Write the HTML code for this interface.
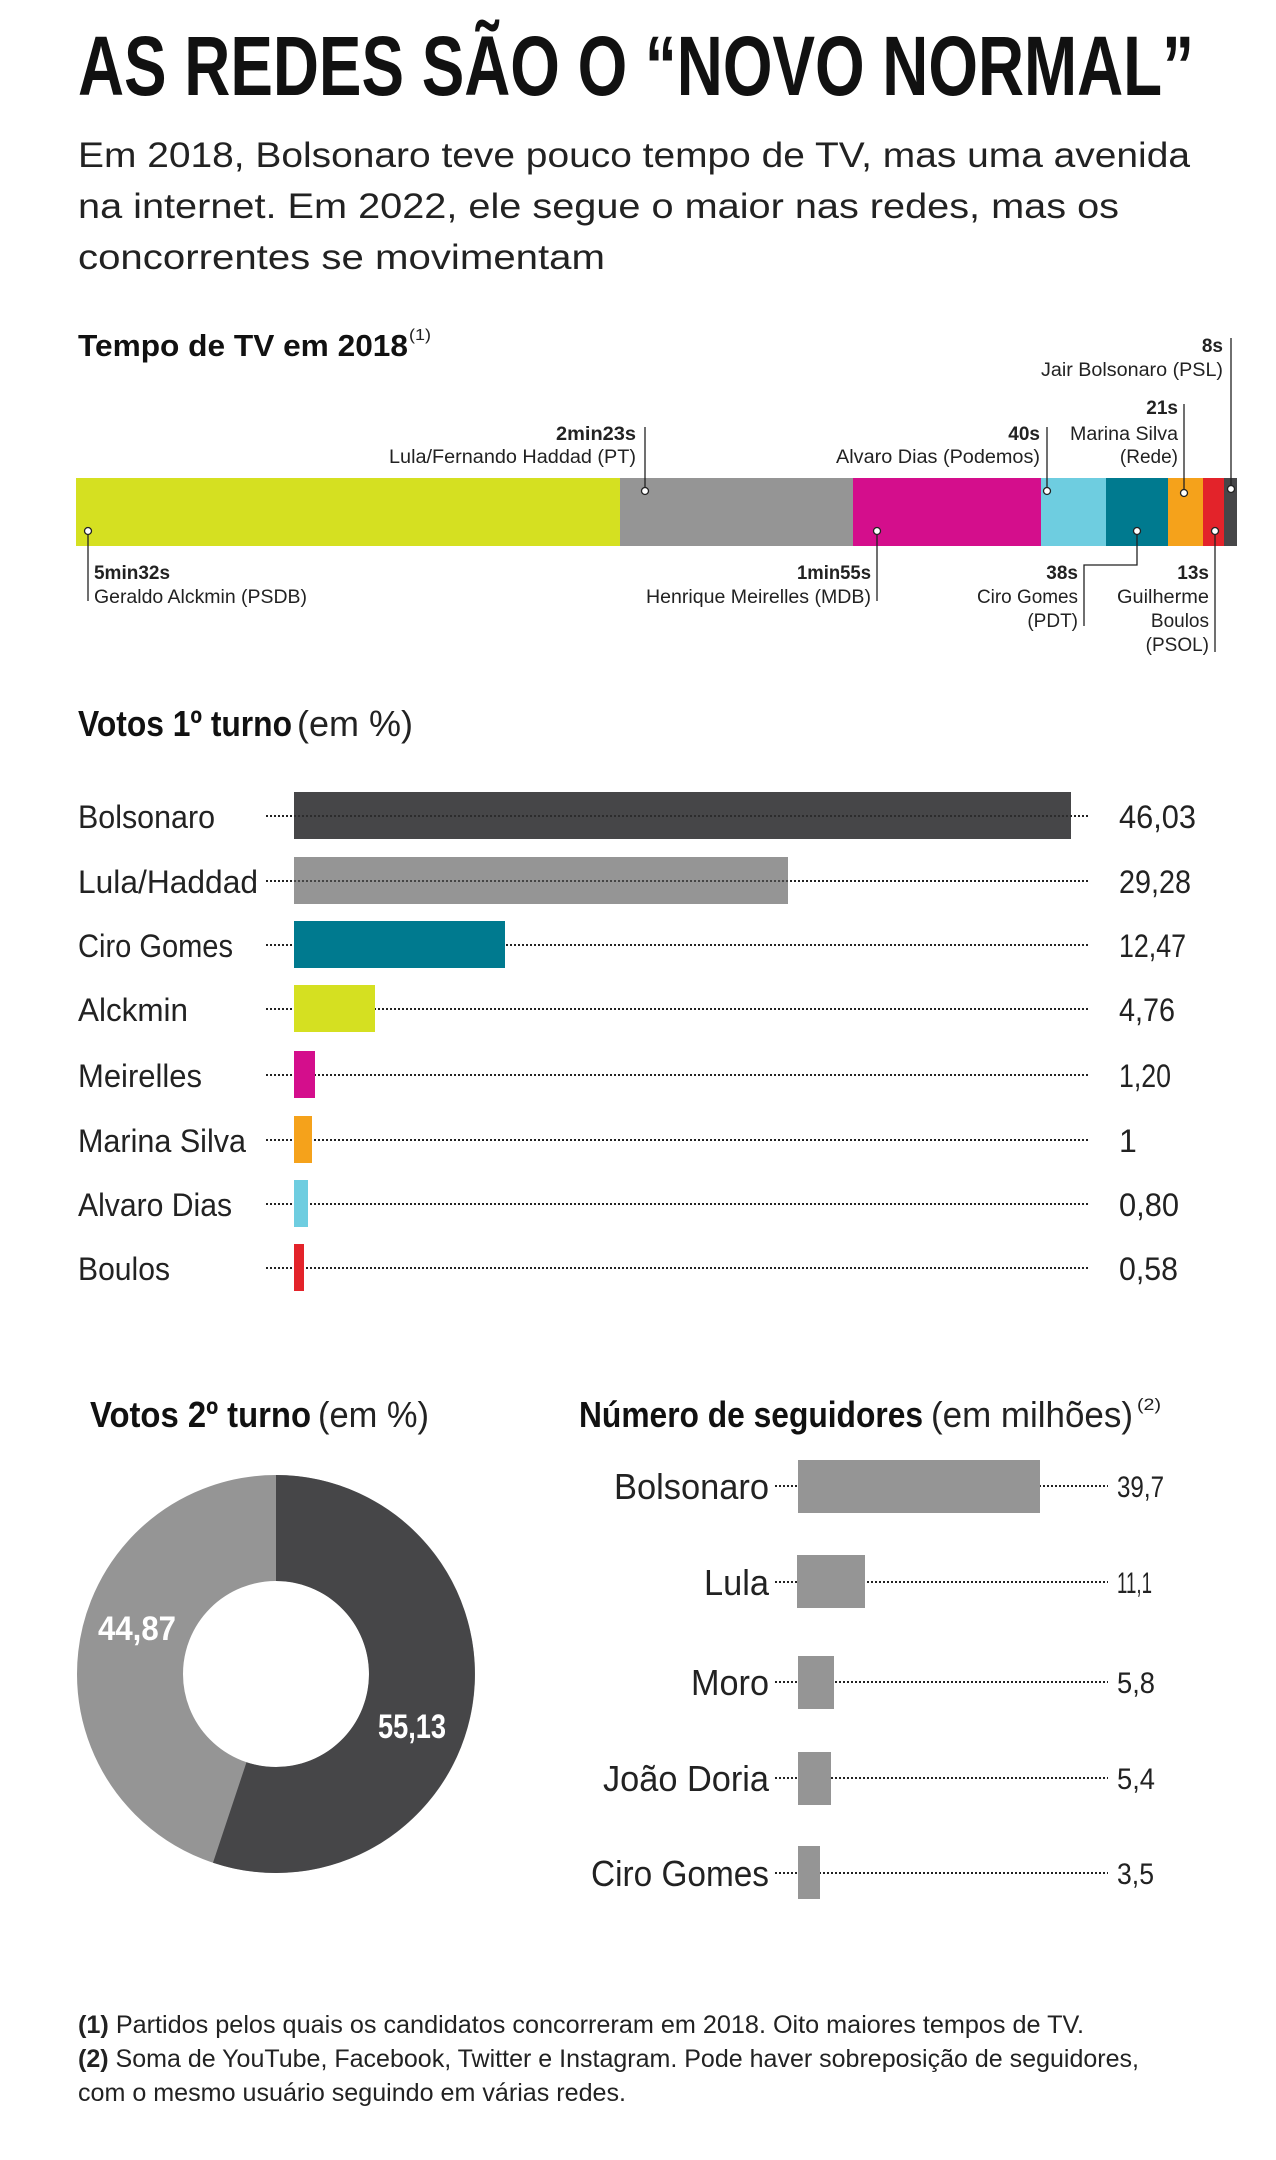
<!DOCTYPE html>
<html><head><meta charset="utf-8"><style>
html,body{margin:0;padding:0;background:#fff}
svg{display:block}
text{font-family:"Liberation Sans Narrow","Liberation Sans",sans-serif;fill:#222}
.b{font-weight:bold}
</style></head><body>
<svg width="1276" height="2160" viewBox="0 0 1276 2160" xmlns="http://www.w3.org/2000/svg">
<rect width="1276" height="2160" fill="#fff"/>
<text x="78" y="95" class="b" font-size="84" textLength="1116" lengthAdjust="spacingAndGlyphs" style="fill:#111">AS REDES SÃO O “NOVO NORMAL”</text>
<g font-size="35" style="fill:#222">
<text x="78" y="167" textLength="1112" lengthAdjust="spacingAndGlyphs">Em 2018, Bolsonaro teve pouco tempo de TV, mas uma avenida</text>
<text x="78" y="218" textLength="1041" lengthAdjust="spacingAndGlyphs">na internet. Em 2022, ele segue o maior nas redes, mas os</text>
<text x="78" y="269" textLength="527" lengthAdjust="spacingAndGlyphs">concorrentes se movimentam</text>
</g>
<text x="78" y="356" class="b" font-size="31" textLength="330" lengthAdjust="spacingAndGlyphs" style="fill:#111">Tempo de TV em 2018</text>
<text x="409" y="340" font-size="16" textLength="22" lengthAdjust="spacingAndGlyphs">(1)</text>
<rect x="76" y="478" width="544" height="68" fill="#d5e021"/>
<rect x="620" y="478" width="233" height="68" fill="#959595"/>
<rect x="853" y="478" width="188" height="68" fill="#d40e8c"/>
<rect x="1041" y="478" width="65" height="68" fill="#6ecde0"/>
<rect x="1106" y="478" width="62" height="68" fill="#007a8f"/>
<rect x="1168" y="478" width="35" height="68" fill="#f5a21b"/>
<rect x="1203" y="478" width="21" height="68" fill="#e3232a"/>
<rect x="1224" y="478" width="13" height="68" fill="#464648"/>
<g stroke="#222" stroke-width="1.3" fill="none">
<line x1="645" y1="427" x2="645" y2="488"/>
<line x1="1047" y1="427" x2="1047" y2="488"/>
<line x1="1184" y1="404" x2="1184" y2="490"/>
<line x1="1231" y1="338" x2="1231" y2="486"/>
<line x1="88" y1="534" x2="88" y2="601"/>
<line x1="877" y1="534" x2="877" y2="601"/>
<polyline points="1137,534 1137,565 1084,565 1084,626"/>
<line x1="1215" y1="534" x2="1215" y2="652"/>
</g>
<g fill="#fff" stroke="#222" stroke-width="1.3">
<circle cx="645" cy="491" r="3.5"/><circle cx="1047" cy="491" r="3.5"/>
<circle cx="1184" cy="493" r="3.5"/><circle cx="1231" cy="489" r="3.5"/>
<circle cx="88" cy="531" r="3.5"/><circle cx="877" cy="531" r="3.5"/>
<circle cx="1137" cy="531" r="3.5"/><circle cx="1215" cy="531" r="3.5"/>
</g>
<g font-size="19" text-anchor="end">
<text x="1223" y="352" class="b">8s</text>
<text x="1223" y="376" textLength="182" lengthAdjust="spacingAndGlyphs">Jair Bolsonaro (PSL)</text>
<text x="1178" y="414" class="b">21s</text>
<text x="1178" y="440" textLength="108" lengthAdjust="spacingAndGlyphs">Marina Silva</text>
<text x="1178" y="463">(Rede)</text>
<text x="636" y="440" class="b" textLength="80" lengthAdjust="spacingAndGlyphs">2min23s</text>
<text x="636" y="463" textLength="247" lengthAdjust="spacingAndGlyphs">Lula/Fernando Haddad (PT)</text>
<text x="1040" y="440" class="b">40s</text>
<text x="1040" y="463" textLength="204" lengthAdjust="spacingAndGlyphs">Alvaro Dias (Podemos)</text>
<text x="871" y="579" class="b" textLength="74" lengthAdjust="spacingAndGlyphs">1min55s</text>
<text x="871" y="603" textLength="225" lengthAdjust="spacingAndGlyphs">Henrique Meirelles (MDB)</text>
<text x="1078" y="579" class="b">38s</text>
<text x="1078" y="603" textLength="101" lengthAdjust="spacingAndGlyphs">Ciro Gomes</text>
<text x="1078" y="627">(PDT)</text>
<text x="1209" y="579" class="b">13s</text>
<text x="1209" y="603" textLength="92" lengthAdjust="spacingAndGlyphs">Guilherme</text>
<text x="1209" y="627">Boulos</text>
<text x="1209" y="651">(PSOL)</text>
</g>
<g font-size="19">
<text x="94" y="579" class="b" textLength="76" lengthAdjust="spacingAndGlyphs">5min32s</text>
<text x="94" y="603" textLength="213" lengthAdjust="spacingAndGlyphs">Geraldo Alckmin (PSDB)</text>
</g>
<text x="78" y="736" font-size="36" style="fill:#111"><tspan class="b" textLength="214" lengthAdjust="spacingAndGlyphs">Votos 1º turno</tspan></text>
<text x="297" y="736" font-size="36" textLength="116" lengthAdjust="spacingAndGlyphs">(em %)</text>
<g stroke="#222" stroke-width="2" stroke-dasharray="2,2">
<line x1="266" y1="816" x2="1090" y2="816"/><line x1="266" y1="881" x2="1090" y2="881"/>
<line x1="266" y1="945" x2="1090" y2="945"/><line x1="266" y1="1009" x2="1090" y2="1009"/>
<line x1="266" y1="1075" x2="1090" y2="1075"/><line x1="266" y1="1140" x2="1090" y2="1140"/>
<line x1="266" y1="1204" x2="1090" y2="1204"/><line x1="266" y1="1268" x2="1090" y2="1268"/>
</g>
<rect x="294" y="792" width="777" height="47" fill="#464648"/>
<rect x="294" y="857" width="494" height="47" fill="#959595"/>
<rect x="294" y="921" width="211" height="47" fill="#007a8f"/>
<rect x="294" y="985" width="81" height="47" fill="#d5e021"/>
<rect x="294" y="1051" width="21" height="47" fill="#d40e8c"/>
<rect x="294" y="1116" width="18" height="47" fill="#f5a21b"/>
<rect x="294" y="1180" width="14" height="47" fill="#6ecde0"/>
<rect x="294" y="1244" width="10" height="47" fill="#e3232a"/>
<g stroke="#222" stroke-width="2" stroke-dasharray="2,2" opacity="0.7">
<line x1="294" y1="816" x2="1071" y2="816"/><line x1="294" y1="881" x2="788" y2="881"/>
</g>
<g font-size="32">
<text x="78" y="828" textLength="137" lengthAdjust="spacingAndGlyphs">Bolsonaro</text>
<text x="78" y="893" textLength="180" lengthAdjust="spacingAndGlyphs">Lula/Haddad</text>
<text x="78" y="957" textLength="155" lengthAdjust="spacingAndGlyphs">Ciro Gomes</text>
<text x="78" y="1021" textLength="110" lengthAdjust="spacingAndGlyphs">Alckmin</text>
<text x="78" y="1087" textLength="124" lengthAdjust="spacingAndGlyphs">Meirelles</text>
<text x="78" y="1152" textLength="168" lengthAdjust="spacingAndGlyphs">Marina Silva</text>
<text x="78" y="1216" textLength="154" lengthAdjust="spacingAndGlyphs">Alvaro Dias</text>
<text x="78" y="1280" textLength="92" lengthAdjust="spacingAndGlyphs">Boulos</text>
<text x="1119" y="828" textLength="77" lengthAdjust="spacingAndGlyphs">46,03</text>
<text x="1119" y="893" textLength="72" lengthAdjust="spacingAndGlyphs">29,28</text>
<text x="1119" y="957" textLength="67" lengthAdjust="spacingAndGlyphs">12,47</text>
<text x="1119" y="1021" textLength="56" lengthAdjust="spacingAndGlyphs">4,76</text>
<text x="1119" y="1087" textLength="52" lengthAdjust="spacingAndGlyphs">1,20</text>
<text x="1119" y="1152">1</text>
<text x="1119" y="1216" textLength="60" lengthAdjust="spacingAndGlyphs">0,80</text>
<text x="1119" y="1280" textLength="59" lengthAdjust="spacingAndGlyphs">0,58</text>
</g>
<text x="90" y="1427" font-size="36" class="b" textLength="221" lengthAdjust="spacingAndGlyphs" style="fill:#111">Votos 2º turno</text>
<text x="318" y="1427" font-size="36" textLength="111" lengthAdjust="spacingAndGlyphs">(em %)</text>
<circle cx="276" cy="1674" r="146" fill="none" stroke="#959595" stroke-width="106"/>
<path d="M276,1475 A199,199 0 1 1 213,1862.8 L246.5,1762.2 A93,93 0 1 0 276,1581 Z" fill="#464648"/>
<text x="98" y="1640" font-size="34" class="b" textLength="78" lengthAdjust="spacingAndGlyphs" style="fill:#fff">44,87</text>
<text x="378" y="1738" font-size="34" class="b" textLength="68" lengthAdjust="spacingAndGlyphs" style="fill:#fff">55,13</text>
<text x="579" y="1427" font-size="36" class="b" textLength="344" lengthAdjust="spacingAndGlyphs" style="fill:#111">Número de seguidores</text>
<text x="931" y="1427" font-size="36" textLength="202" lengthAdjust="spacingAndGlyphs">(em milhões)</text>
<text x="1137" y="1410" font-size="17" textLength="24" lengthAdjust="spacingAndGlyphs">(2)</text>
<g stroke="#222" stroke-width="2" stroke-dasharray="2,2">
<line x1="775" y1="1486" x2="1108" y2="1486"/><line x1="775" y1="1582" x2="1108" y2="1582"/>
<line x1="775" y1="1682" x2="1108" y2="1682"/><line x1="775" y1="1778" x2="1108" y2="1778"/>
<line x1="775" y1="1873" x2="1108" y2="1873"/>
</g>
<g fill="#959595">
<rect x="798" y="1460" width="242" height="53"/>
<rect x="797" y="1555" width="68" height="53"/>
<rect x="798" y="1656" width="36" height="53"/>
<rect x="798" y="1752" width="33" height="53"/>
<rect x="798" y="1846" width="22" height="53"/>
</g>
<g font-size="36" text-anchor="end">
<text x="769" y="1499" textLength="155" lengthAdjust="spacingAndGlyphs">Bolsonaro</text>
<text x="769" y="1595" textLength="65" lengthAdjust="spacingAndGlyphs">Lula</text>
<text x="769" y="1695" textLength="78" lengthAdjust="spacingAndGlyphs">Moro</text>
<text x="769" y="1791" textLength="166" lengthAdjust="spacingAndGlyphs">João Doria</text>
<text x="769" y="1886" textLength="178" lengthAdjust="spacingAndGlyphs">Ciro Gomes</text>
</g>
<g font-size="30">
<text x="1117" y="1497" textLength="47" lengthAdjust="spacingAndGlyphs">39,7</text>
<text x="1117" y="1593" textLength="35" lengthAdjust="spacingAndGlyphs">11,1</text>
<text x="1117" y="1693" textLength="38" lengthAdjust="spacingAndGlyphs">5,8</text>
<text x="1117" y="1789" textLength="38" lengthAdjust="spacingAndGlyphs">5,4</text>
<text x="1117" y="1884" textLength="37" lengthAdjust="spacingAndGlyphs">3,5</text>
</g>
<g font-size="25">
<text x="78" y="2033" textLength="1006" lengthAdjust="spacingAndGlyphs"><tspan class="b">(1)</tspan> Partidos pelos quais os candidatos concorreram em 2018. Oito maiores tempos de TV.</text>
<text x="78" y="2067" textLength="1061" lengthAdjust="spacingAndGlyphs"><tspan class="b">(2)</tspan> Soma de YouTube, Facebook, Twitter e Instagram. Pode haver sobreposição de seguidores,</text>
<text x="78" y="2101" textLength="548" lengthAdjust="spacingAndGlyphs">com o mesmo usuário seguindo em várias redes.</text>
</g>
</svg>
</body></html>
